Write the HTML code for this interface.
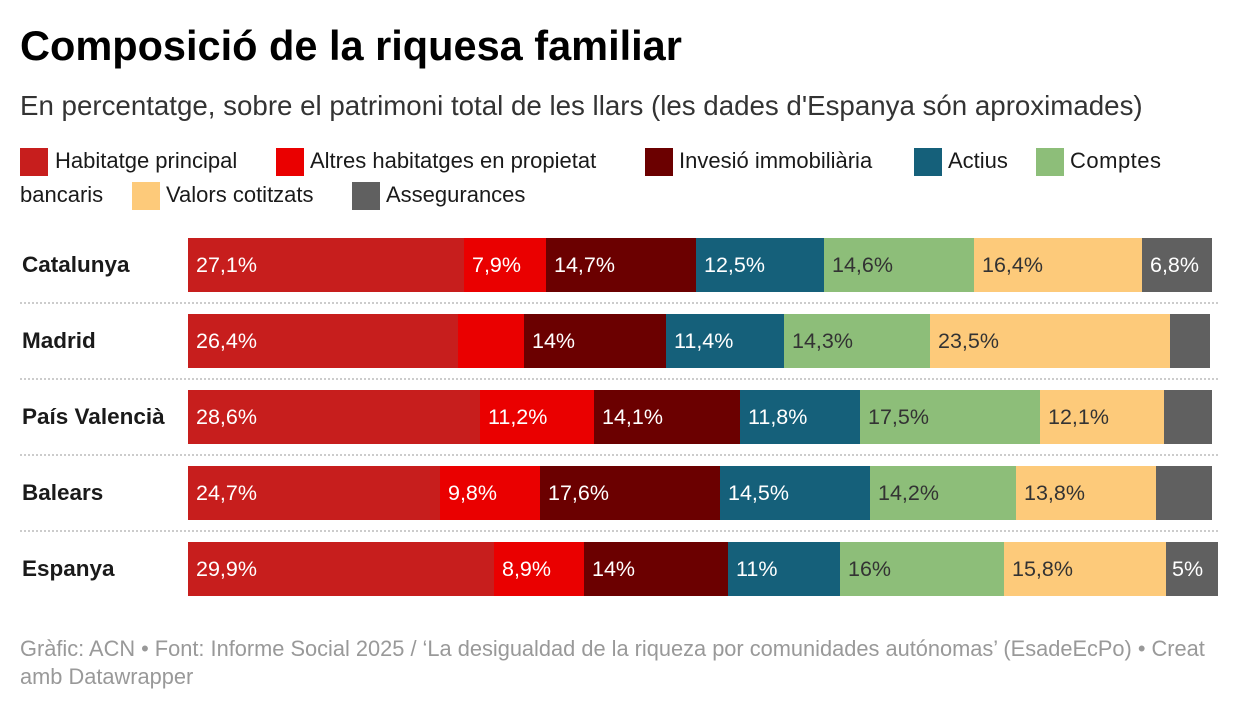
<!DOCTYPE html>
<html><head><meta charset="utf-8"><style>
body{margin:0;width:1240px;height:710px;background:#fff;font-family:"Liberation Sans",sans-serif;position:relative;overflow:hidden;color:#1a1a1a}
.a{position:absolute;white-space:nowrap}
.sq{position:absolute;width:28px;height:28px}
.lg{font-size:22px;position:absolute;white-space:nowrap}
.row{position:absolute;left:188px;height:54px;width:1040px}
.seg{position:absolute;top:0;height:54px;font-size:21.5px;line-height:54px;padding-left:8px;box-sizing:border-box;overflow:hidden;white-space:nowrap}
.w{color:#fff}.d{color:#333}
.lab{position:absolute;left:22px;font-size:22.5px;font-weight:bold;line-height:54px}
.sep{position:absolute;left:20px;width:1198px;border-top:2px dotted #ccc}
</style></head><body>
<div class="a" style="left:20px;top:22px;font-size:41.5px;font-weight:bold;color:#000">Composició de la riquesa familiar</div>
<div class="a" style="left:20px;top:90px;font-size:27.7px;color:#333">En percentatge, sobre el patrimoni total de les llars (les dades d'Espanya són aproximades)</div>

<div class="sq" style="left:20px;top:148px;background:#c71e1d"></div><div class="lg" style="left:55px;top:148px">Habitatge principal</div>
<div class="sq" style="left:276px;top:148px;background:#ea0000"></div><div class="lg" style="left:310px;top:148px">Altres habitatges en propietat</div>
<div class="sq" style="left:645px;top:148px;background:#6b0000"></div><div class="lg" style="left:679px;top:148px">Invesió immobiliària</div>
<div class="sq" style="left:914px;top:148px;background:#15607a"></div><div class="lg" style="left:948px;top:148px">Actius</div>
<div class="sq" style="left:1036px;top:148px;background:#8dbe79"></div><div class="lg" style="left:1070px;top:148px;letter-spacing:0.5px">Comptes</div>
<div class="lg" style="left:20px;top:182px">bancaris</div>
<div class="sq" style="left:132px;top:182px;background:#fdca7a"></div><div class="lg" style="left:166px;top:182px">Valors cotitzats</div>
<div class="sq" style="left:352px;top:182px;background:#606060"></div><div class="lg" style="left:386px;top:182px">Assegurances</div>

<div class="lab" style="top:238px">Catalunya</div>
<div class="lab" style="top:314px">Madrid</div>
<div class="lab" style="top:390px">País Valencià</div>
<div class="lab" style="top:466px">Balears</div>
<div class="lab" style="top:542px">Espanya</div>
<div class="sep" style="top:302px"></div><div class="sep" style="top:378px"></div><div class="sep" style="top:454px"></div><div class="sep" style="top:530px"></div>

<div class="row" style="top:238px">
<div class="seg w" style="left:0;width:276px;background:#c71e1d">27,1%</div>
<div class="seg w" style="left:276px;width:82px;background:#ea0000">7,9%</div>
<div class="seg w" style="left:358px;width:150px;background:#6b0000">14,7%</div>
<div class="seg w" style="left:508px;width:128px;background:#15607a">12,5%</div>
<div class="seg d" style="left:636px;width:150px;background:#8dbe79">14,6%</div>
<div class="seg d" style="left:786px;width:168px;background:#fdca7a">16,4%</div>
<div class="seg w" style="left:954px;width:70px;background:#606060">6,8%</div>
</div>
<div class="row" style="top:314px">
<div class="seg w" style="left:0;width:270px;background:#c71e1d">26,4%</div>
<div class="seg w" style="left:270px;width:66px;background:#ea0000"></div>
<div class="seg w" style="left:336px;width:142px;background:#6b0000">14%</div>
<div class="seg w" style="left:478px;width:118px;background:#15607a">11,4%</div>
<div class="seg d" style="left:596px;width:146px;background:#8dbe79">14,3%</div>
<div class="seg d" style="left:742px;width:240px;background:#fdca7a">23,5%</div>
<div class="seg w" style="left:982px;width:40px;background:#606060"></div>
</div>
<div class="row" style="top:390px">
<div class="seg w" style="left:0;width:292px;background:#c71e1d">28,6%</div>
<div class="seg w" style="left:292px;width:114px;background:#ea0000">11,2%</div>
<div class="seg w" style="left:406px;width:146px;background:#6b0000">14,1%</div>
<div class="seg w" style="left:552px;width:120px;background:#15607a">11,8%</div>
<div class="seg d" style="left:672px;width:180px;background:#8dbe79">17,5%</div>
<div class="seg d" style="left:852px;width:124px;background:#fdca7a">12,1%</div>
<div class="seg w" style="left:976px;width:48px;background:#606060"></div>
</div>
<div class="row" style="top:466px">
<div class="seg w" style="left:0;width:252px;background:#c71e1d">24,7%</div>
<div class="seg w" style="left:252px;width:100px;background:#ea0000">9,8%</div>
<div class="seg w" style="left:352px;width:180px;background:#6b0000">17,6%</div>
<div class="seg w" style="left:532px;width:150px;background:#15607a">14,5%</div>
<div class="seg d" style="left:682px;width:146px;background:#8dbe79">14,2%</div>
<div class="seg d" style="left:828px;width:140px;background:#fdca7a">13,8%</div>
<div class="seg w" style="left:968px;width:56px;background:#606060"></div>
</div>
<div class="row" style="top:542px">
<div class="seg w" style="left:0;width:306px;background:#c71e1d">29,9%</div>
<div class="seg w" style="left:306px;width:90px;background:#ea0000">8,9%</div>
<div class="seg w" style="left:396px;width:144px;background:#6b0000">14%</div>
<div class="seg w" style="left:540px;width:112px;background:#15607a">11%</div>
<div class="seg d" style="left:652px;width:164px;background:#8dbe79">16%</div>
<div class="seg d" style="left:816px;width:162px;background:#fdca7a">15,8%</div>
<div class="seg w" style="left:978px;width:52px;background:#606060;padding-left:6px">5%</div>
</div>

<div class="a" style="left:20px;top:635px;font-size:21.8px;color:#999;line-height:28px">Gràfic: ACN • Font: Informe Social 2025 / ‘La desigualdad de la riqueza por comunidades autónomas’ (EsadeEcPo) • Creat<br>amb Datawrapper</div>
</body></html>
